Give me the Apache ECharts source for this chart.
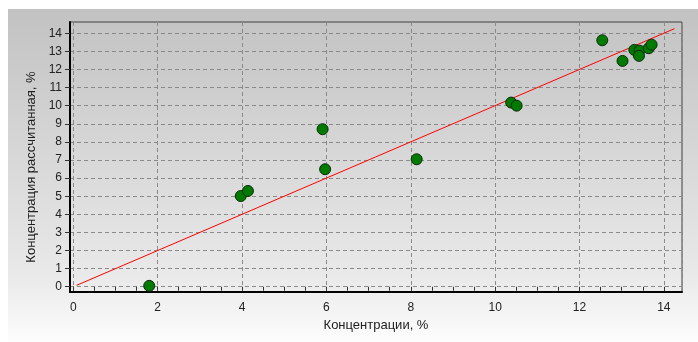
<!DOCTYPE html>
<html>
<head>
<meta charset="utf-8">
<script src="https://cdn.jsdelivr.net/npm/echarts@6/dist/echarts.min.js"></script>
<style>
  html, body { margin: 0; padding: 0; background: #ffffff; }
  #chart { width: 698px; height: 342px; }
</style>
</head>
<body>
<div id="chart"></div>
<script>
// Measured vs. calculated concentration, %
const measured   = [1.80, 3.97, 4.14, 5.91, 5.97, 8.14, 10.38, 10.51, 12.54, 13.02, 13.30, 13.42, 13.41, 13.64, 13.71];
const calculated = [0.05, 5.01, 5.29, 8.70, 6.49, 7.04, 10.17, 10.00, 13.61, 12.47, 13.08, 13.04, 12.75, 13.17, 13.37];

// Ends of the y = x reference line
const lineX = [0.08, 14.25];

// Tick labels
const xTickLabels = [0, 2, 4, 6, 8, 10, 12, 14];
const yTickLabels = [0, 1, 2, 3, 4, 5, 6, 7, 8, 9, 10, 11, 12, 13, 14];
// Small tick marks along the x axis
const xTickMarks = [0, 0.5, 1, 1.5, 2, 2.5, 3, 3.5, 4, 4.5, 5, 5.5, 6, 6.5, 7, 7.5,
                    8, 8.5, 9, 9.5, 10, 10.5, 11, 11.5, 12, 12.5, 13, 13.5, 14];

const xTitle = 'Концентрации, %';
const yTitle = 'Концентрация рассчитанная, %';

const points = measured.map((x, i) => [x, calculated[i]]);
const fitLine = lineX.map(v => [v, v]);

const FONT = 'Arial, "Liberation Sans", sans-serif';
const X_MIN = -0.078, X_MAX = 14.43;
const Y_MIN = -0.29, Y_MAX = 14.62;

const chart = echarts.init(document.getElementById('chart'), null, { renderer: 'canvas' });

chart.setOption({
  backgroundColor: '#ffffff',
  animation: false,
  graphic: [{
    type: 'rect',
    z: -10,
    silent: true,
    shape: { x: 8, y: 9, width: 690, height: 333 },
    style: {
      fill: new echarts.graphic.LinearGradient(0, 0, 0, 1, [
        { offset: 0, color: '#c2c2c2' },
        { offset: 0.8, color: '#e9e9e9' },
        { offset: 1, color: '#fdfdfd' }
      ])
    }
  }],
  grid: {
    left: 70, top: 22, right: 16, bottom: 50,
    show: true,
    backgroundColor: 'transparent',
    borderColor: '#404040',
    borderWidth: 1
  },
  xAxis: [{
    type: 'value',
    min: X_MIN, max: X_MAX,
    splitNumber: 7,
    name: xTitle,
    nameLocation: 'middle',
    nameGap: 26,
    nameTextStyle: { fontFamily: FONT, fontSize: 13, color: '#222222' },
    axisLine: { show: true, onZero: false, lineStyle: { color: '#000000', width: 2 } },
    axisTick: { show: false },
    axisLabel: {
      customValues: xTickLabels,
      margin: 10,
      fontFamily: FONT, fontSize: 12, color: '#222222'
    },
    splitLine: { show: true, lineStyle: { color: '#8a8a8a', type: [4, 3], width: 1 } }
  }, {
    type: 'value',
    min: X_MIN, max: X_MAX,
    position: 'bottom',
    axisLine: { show: false },
    axisLabel: { show: false },
    splitLine: { show: false },
    axisTick: {
      show: true,
      customValues: xTickMarks,
      length: 4,
      lineStyle: { color: '#333333', width: 1 }
    }
  }],
  yAxis: {
    type: 'value',
    min: Y_MIN, max: Y_MAX,
    splitNumber: 14,
    name: yTitle,
    nameLocation: 'middle',
    nameGap: 28,
    nameTextStyle: { fontFamily: FONT, fontSize: 13, color: '#222222', padding: [0, 20, 0, 0] },
    axisLine: { show: true, onZero: false, lineStyle: { color: '#000000', width: 2 } },
    axisTick: {
      show: true,
      customValues: yTickLabels,
      length: 5,
      lineStyle: { color: '#333333', width: 1 }
    },
    axisLabel: {
      customValues: yTickLabels,
      margin: 8,
      fontFamily: FONT, fontSize: 12, color: '#222222'
    },
    splitLine: { show: true, lineStyle: { color: '#8a8a8a', type: [4, 3], width: 1 } }
  },
  series: [{
    type: 'line',
    data: fitLine,
    xAxisIndex: 0,
    symbol: 'none',
    silent: true,
    lineStyle: { color: '#ff0000', width: 1 },
    z: 2
  }, {
    type: 'scatter',
    data: points,
    xAxisIndex: 0,
    symbol: 'circle',
    symbolSize: 11,
    itemStyle: { color: '#007a00', borderColor: '#0b2b0b', borderWidth: 1, opacity: 1 },
    z: 3
  }]
});
</script>
</body>
</html>
